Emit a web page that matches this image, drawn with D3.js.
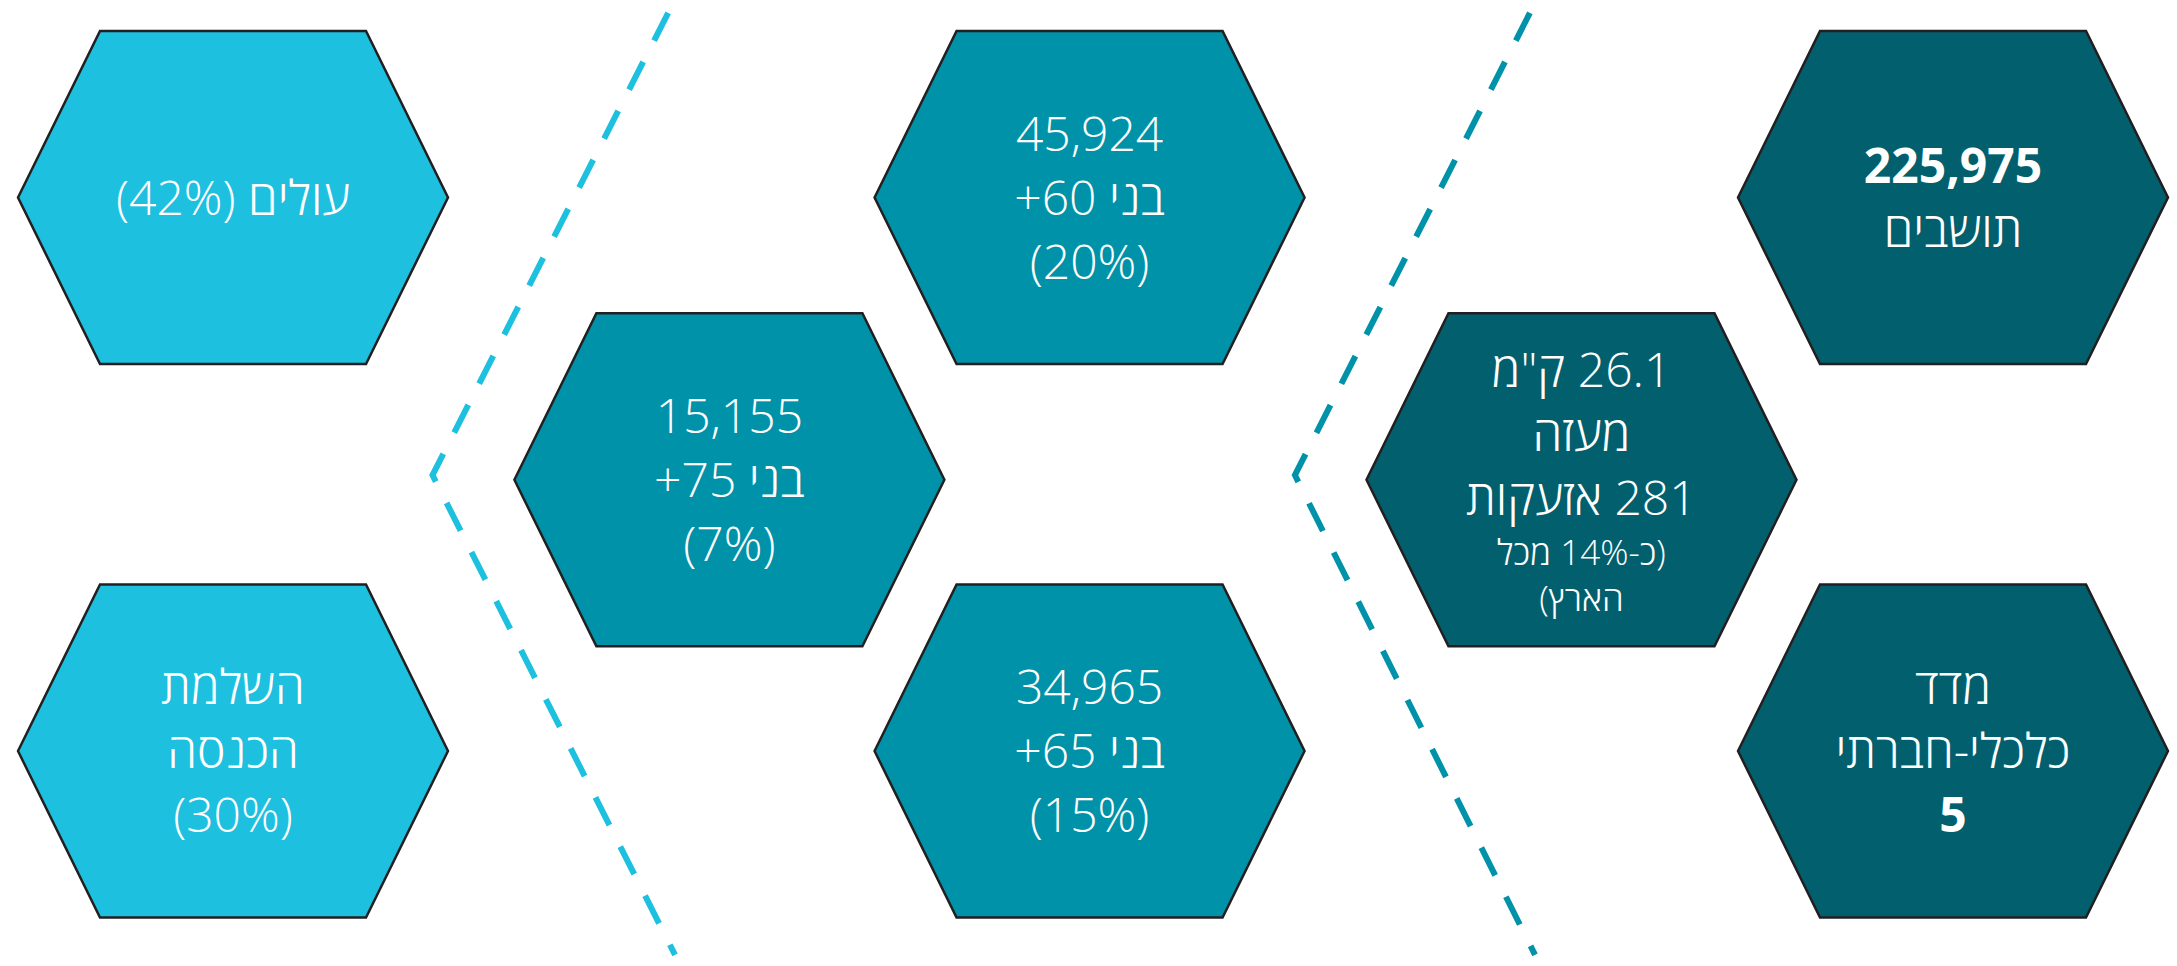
<!DOCTYPE html>
<html lang="he">
<head>
<meta charset="utf-8">
<script src="https://cdn.jsdelivr.net/npm/d3@7"></script>
<style>
  body { margin: 0; background: #fff; }
  .hex-label { font-family: "Open Sans", "Noto Sans", "DejaVu Sans", sans-serif; fill: #fff; }
</style>
</head>
<body>
<div class="chart-container"></div>
<script>
/********** the Data **********/
// three groups, coloured from light (welfare) to dark (the city)
const groups = ["welfare", "elderly", "city"];
const groupColors = ["#1dc0df", "#0092a8", "#02606e"];

// one entry per hexagon
const hexGroup = [0, 0, 1, 1, 1, 2, 2, 2];
const hexCol = [0, 0, 1, 2, 2, 3, 4, 4];
const hexRow = [0, 2, 1, 0, 2, 1, 0, 2];

// label lines, top to bottom ("b" = bold, "s" = small, "" = regular)
const hexText = [
  ["עולים (42%)"],
  ["השלמת", "הכנסה", "(30%)"],
  ["15,155", "בני 75+", "(7%)"],
  ["45,924", "בני 60+", "(20%)"],
  ["34,965", "בני 65+", "(15%)"],
  ["26.1 ק\"מ", "מעזה", "281 אזעקות", "(כ-14% מכל", "הארץ)"],
  ["225,975", "תושבים"],
  ["מדד", "כלכלי-חברתי", "5"]
];
const hexTextKind = [
  [""],
  ["", "", ""],
  ["", "", ""],
  ["", "", ""],
  ["", "", ""],
  ["", "", "", "s", "s"],
  ["b", ""],
  ["", "", "b"]
];

/********** layout **********/
// column / row positions in layout units
const colPos = [0, 1.443, 2.49, 3.92, 5];
const rowPos = [0, 1.02, 2];
// dashed dividers: x units at top, vertex, bottom
const dividerCols = [[1.265, 0.58, 1.285], [3.77, 3.087, 3.785]];
const dividerRows = [-0.667, 1.003, 2.737];

function drawChart() {
  let width = 2177;
  let height = 966;

  let xScale = d3.scaleLinear().domain([0, 5]).range([233, 1953]);
  let yScale = d3.scaleLinear().domain([0, 2]).range([197.5, 751]);
  let color = d3.scaleOrdinal().domain([0, 1, 2]).range(groupColors);

  // hexagon size in px
  let halfW = 215, innerW = 133, halfH = 166.5;

  let svg = d3.select(".chart-container")
    .append("svg")
      .attr("width", width)
      .attr("height", height);

  /***** dashed dividers *****/
  let line = d3.line();
  svg.selectAll(".divider")
      .data(dividerCols)
    .enter().append("path")
      .attr("class", "divider")
      .attr("d", d => line(d.map((c, i) => [xScale(c), yScale(dividerRows[i])])))
      .attr("fill", "none")
      .attr("stroke", (d, i) => color(i))
      .attr("stroke-width", 6)
      .attr("stroke-dasharray", "31 24");

  /***** hexagons *****/
  let hexData = hexText.map((lines, i) => ({
    lines: lines,
    kinds: hexTextKind[i],
    group: hexGroup[i],
    cx: xScale(colPos[hexCol[i]]),
    cy: yScale(rowPos[hexRow[i]])
  }));

  let hexG = svg.selectAll(".hex")
      .data(hexData)
    .enter().append("g")
      .attr("class", "hex");

  hexG.append("path")
    .attr("d", d => line([
      [d.cx - halfW, d.cy],
      [d.cx - innerW, d.cy - halfH],
      [d.cx + innerW, d.cy - halfH],
      [d.cx + halfW, d.cy],
      [d.cx + innerW, d.cy + halfH],
      [d.cx - innerW, d.cy + halfH]
    ]) + "Z")
    .attr("fill", d => color(d.group))
    .attr("stroke", "#231f20")
    .attr("stroke-width", 2.5);

  // label lines, block centred in the hexagon
  hexG.each(function (d) {
    let heights = d.kinds.map(k => k === "s" ? 46 : 64);
    let total = d3.sum(heights);
    let y = d.cy - total / 2;
    let g = d3.select(this);
    d.lines.forEach((txt, i) => {
      let k = d.kinds[i];
      g.append("text")
        .attr("class", "hex-label")
        .attr("x", d.cx)
        .attr("y", y + heights[i] / 2)
        .attr("dy", "0.36em")
        .attr("direction", "rtl")
        .attr("text-anchor", "middle")
        .style("font-size", k === "s" ? "35px" : "48px")
        .style("font-weight", k === "b" ? 700 : 300)
        .text(txt);
      y += heights[i];
    });
  });
}

drawChart();
</script>
</body>
</html>
